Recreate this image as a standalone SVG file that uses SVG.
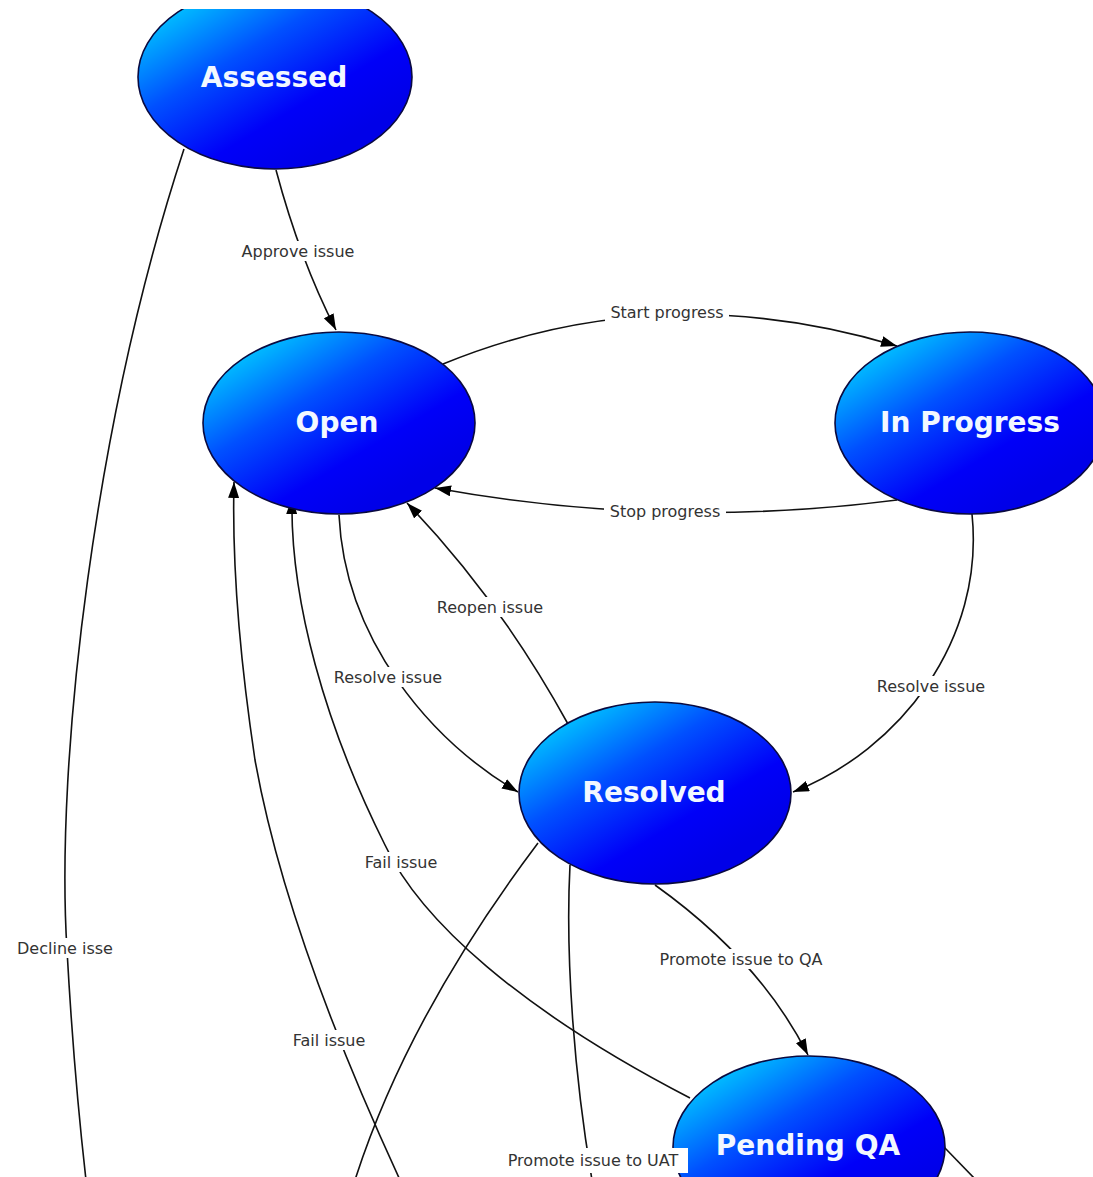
<svg xmlns="http://www.w3.org/2000/svg" width="1093" height="1177" viewBox="0 0 1093 1177">
  <style>
    .node ellipse { fill: url(#blueGrad); stroke: #0a0a40; stroke-width: 1.6; }
    .node text { font-family: "DejaVu Sans", Verdana, sans-serif; font-weight: bold; font-size: 28px; fill: #f2f8ff; text-anchor: middle; }
    .edge { fill: none; stroke: #111; stroke-width: 1.6; }
    .lbl { font-family: "DejaVu Sans", Verdana, sans-serif; font-size: 16px; fill: #333; text-anchor: middle; }
    .lblbg { fill: #fff; }
  </style>
  <defs>
    <linearGradient id="blueGrad" x1="0.08" y1="0.1" x2="0.75" y2="0.85">
      <stop offset="0" stop-color="#00d2ff"/>
      <stop offset="0.4" stop-color="#0050ff"/>
      <stop offset="0.75" stop-color="#0000f8"/>
      <stop offset="1" stop-color="#0000e8"/>
    </linearGradient>
    <marker id="arrow" viewBox="0 0 16 11" refX="16" refY="5.5" markerWidth="16" markerHeight="11" markerUnits="userSpaceOnUse" orient="auto">
      <path d="M0,0 L16,5.5 L0,11 z" fill="#000"/>
    </marker>
    <clipPath id="frame"><rect x="0" y="9" width="1093" height="1168"/></clipPath>
  </defs>
  <rect x="0" y="0" width="1093" height="1177" fill="#fff"/>
  <g clip-path="url(#frame)">
    <g id="connectors">
      <path class="edge" d="M276,170 Q300,260 336,330" marker-end="url(#arrow)"/>
      <path class="edge" d="M184,149 C95,420 55,760 67,950 C72,1040 78,1110 86,1180"/>
      <path class="edge" d="M443,364 Q660,275 897,346" marker-end="url(#arrow)"/>
      <path class="edge" d="M897,500 Q666,530 435,488" marker-end="url(#arrow)"/>
      <path class="edge" d="M339,515 C345,640 430,740 518,792" marker-end="url(#arrow)"/>
      <path class="edge" d="M568,724 Q500,600 407,503" marker-end="url(#arrow)"/>
      <path class="edge" d="M972,514 C985,640 900,750 793,792" marker-end="url(#arrow)"/>
      <path class="edge" d="M655,885 Q760,960 808,1055" marker-end="url(#arrow)"/>
      <path class="edge" d="M690,1098 C520,1010 420,920 385,845 C325,725 290,600 292,498" marker-end="url(#arrow)"/>
      <path class="edge" d="M400,1180 C340,1050 280,900 255,760 C240,660 232,560 234,482" marker-end="url(#arrow)"/>
      <path class="edge" d="M538,843 C480,920 400,1040 355,1180"/>
      <path class="edge" d="M570,865 C565,960 575,1080 592,1180"/>
      <path class="edge" d="M944,1147 L976,1180"/>
    </g>
    <g id="node-assessed" class="node">
      <ellipse cx="275" cy="77" rx="137" ry="92"/>
      <text x="274" y="87">Assessed</text>
    </g>
    <g id="node-open" class="node">
      <ellipse cx="339" cy="423" rx="136" ry="91"/>
      <text x="337" y="432">Open</text>
    </g>
    <g id="node-inprogress" class="node">
      <ellipse cx="970" cy="423" rx="135" ry="91"/>
      <text x="970" y="432">In Progress</text>
    </g>
    <g id="node-resolved" class="node">
      <ellipse cx="655" cy="793" rx="136" ry="91"/>
      <text x="654" y="802">Resolved</text>
    </g>
    <g id="node-pendingqa" class="node">
      <ellipse cx="809" cy="1147" rx="136" ry="91"/>
      <text x="808" y="1155">Pending QA</text>
    </g>
    <g id="labels">
      <rect class="lblbg" x="238" y="241" width="121" height="20"/>
      <text class="lbl" x="298" y="257">Approve issue</text>
      <rect class="lblbg" x="605" y="302" width="124" height="20"/>
      <text class="lbl" x="667" y="318">Start progress</text>
      <rect class="lblbg" x="604" y="501" width="122" height="20"/>
      <text class="lbl" x="665" y="517">Stop progress</text>
      <rect class="lblbg" x="432" y="597" width="117" height="20"/>
      <text class="lbl" x="490" y="613">Reopen issue</text>
      <rect class="lblbg" x="330" y="667" width="117" height="20"/>
      <text class="lbl" x="388" y="683">Resolve issue</text>
      <rect class="lblbg" x="873" y="676" width="117" height="20"/>
      <text class="lbl" x="931" y="692">Resolve issue</text>
      <rect class="lblbg" x="361" y="852" width="81" height="20"/>
      <text class="lbl" x="401" y="868">Fail issue</text>
      <rect class="lblbg" x="653" y="949" width="177" height="20"/>
      <text class="lbl" x="741" y="965">Promote issue to QA</text>
      <rect class="lblbg" x="13" y="938" width="104" height="20"/>
      <text class="lbl" x="65" y="954">Decline isse</text>
      <rect class="lblbg" x="289" y="1030" width="81" height="20"/>
      <text class="lbl" x="329" y="1046">Fail issue</text>
      <rect class="lblbg" x="498" y="1148" width="190" height="25"/>
      <text class="lbl" x="593" y="1166">Promote issue to UAT</text>
    </g>
  </g>
</svg>
